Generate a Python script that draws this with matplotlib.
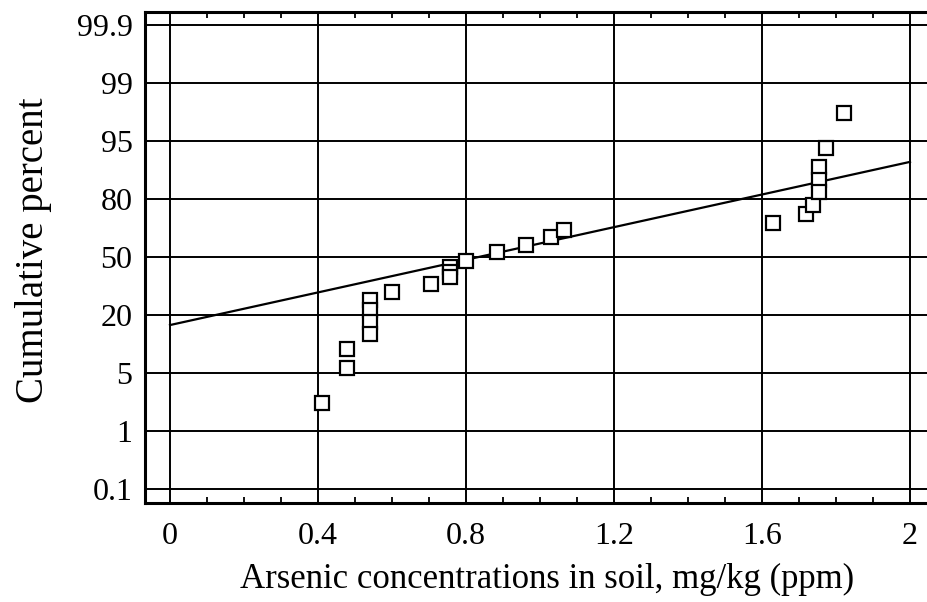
import numpy as np
import matplotlib
matplotlib.use("Agg")
import matplotlib.pyplot as plt
from matplotlib.ticker import MultipleLocator, FixedLocator, FixedFormatter

# ---- data ----
prob_ticks = [0.1, 1, 5, 20, 50, 80, 95, 99, 99.9]
prob_labels = ["0.1", "1", "5", "20", "50", "80", "95", "99", "99.9"]
x_ticks = [0, 0.4, 0.8, 1.2, 1.6, 2.0]
x_labels = ["0", "0.4", "0.8", "1.2", "1.6", "2"]

conc = [0.41, 0.478, 0.478, 0.54, 0.54, 0.54, 0.54, 0.599, 0.705,
        0.757, 0.757, 0.757, 0.80, 0.883, 0.962, 1.03, 1.066,
        1.629, 1.719, 1.739, 1.755, 1.755, 1.755, 1.773, 1.822]
cum_pct = [2.9, 6.2, 11.2, 27.8, 22.7, 18.2, 15.1, 31.7, 35.9,
           44.7, 42.2, 39.8, 48.1, 52.4, 56.3, 60.5, 64.1,
           67.7, 72.2, 76.9, 88.4, 84.9, 81.8, 93.1, 96.9]

fit_x = [0.0, 2.0]
fit_pct = [17.4, 89.6]

# ---- probability-style scale (grid lines evenly spaced) ----
_vals = np.array([0.0] + prob_ticks + [100.0])
_pos = np.array([-0.25] + list(range(len(prob_ticks))) + [len(prob_ticks) - 0.75])

def fwd(p):
    return np.interp(np.asarray(p, dtype=float), _vals, _pos)

def inv(z):
    return np.interp(np.asarray(z, dtype=float), _pos, _vals)

plt.rcParams['font.family'] = ['Liberation Serif', 'DejaVu Serif']

fig = plt.figure(figsize=(9.27, 6.02), dpi=100)
W, H = 927, 602
ax = fig.add_axes([145 / W, (H - 503) / H, (W - 145) / W, (503 - 12) / H])
ax.set_yscale('function', functions=(fwd, inv))

# grid lines
for p in prob_ticks:
    ax.axhline(p, color='black', lw=1.4, zorder=1)
for xv in x_ticks:
    ax.axvline(xv, color='black', lw=1.4, zorder=1)

ax.plot(fit_x, fit_pct, color='black', lw=1.6, zorder=2)
ax.plot(conc, cum_pct, linestyle='none', marker='s', ms=10.5,
        mfc='white', mec='black', mew=1.6, zorder=3)

ax.set_xlim((145 - 170) / 370, (W - 170) / 370)
ax.set_ylim(inv(-14 / 58), inv(477 / 58))

ax.yaxis.set_major_locator(FixedLocator(prob_ticks))
ax.yaxis.set_major_formatter(FixedFormatter(prob_labels))
ax.yaxis.set_minor_locator(FixedLocator([]))
ax.xaxis.set_major_locator(FixedLocator(x_ticks))
ax.xaxis.set_major_formatter(FixedFormatter(x_labels))
ax.xaxis.set_minor_locator(MultipleLocator(0.1))

ax.tick_params(axis='both', which='major', length=0, labelsize=23)
ax.tick_params(axis='y', which='major', pad=9)
ax.tick_params(axis='x', which='major', pad=14)
ax.tick_params(axis='x', which='minor', direction='in', length=4, width=1.3,
               top=True, bottom=True)

for s in ['left', 'top', 'bottom']:
    ax.spines[s].set_linewidth(2.2)
ax.spines['right'].set_visible(False)

ax.set_ylabel("Cumulative percent", fontsize=28)
ax.yaxis.set_label_coords((52 - 145) / 782, (503 - 250) / 491)
ax.set_xlabel("Arsenic concentrations in soil, mg/kg (ppm)", fontsize=25)
ax.xaxis.set_label_coords((547 - 145) / 782, (503 - 563) / 491)

fig.savefig("out.png", dpi=100)
